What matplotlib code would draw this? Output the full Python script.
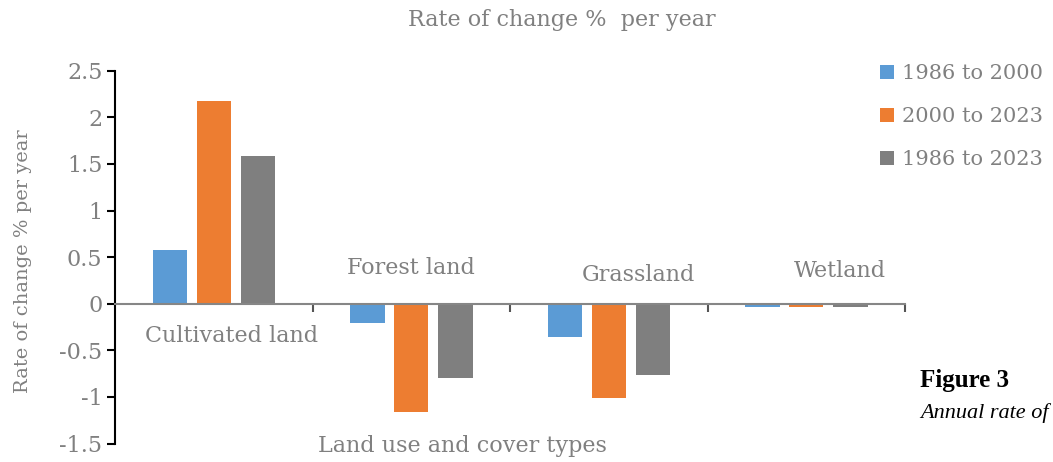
import matplotlib
matplotlib.use("Agg")
from matplotlib import pyplot as plt
import numpy as np

CATEGORIES = ["Cultivated land", "Forest land", "Grassland", "Wetland"]
PERIODS = ["1986 to 2000", "2000 to 2023", "1986 to 2023"]
RATE_1986_2000 = [0.58, -0.21, -0.36, -0.04]
RATE_2000_2023 = [2.18, -1.16, -1.01, -0.04]
RATE_1986_2023 = [1.58, -0.80, -0.76, -0.04]
Y_TICKS = [2.5, 2, 1.5, 1, 0.5, 0, -0.5, -1, -1.5]

COLORS = ["#5B9BD5", "#ED7D31", "#7F7F7F"]
TEXT = "#808080"
FONT = "DejaVu Serif"

plt.rcParams["font.family"] = FONT

fig = plt.figure(figsize=(10.53, 4.62), dpi=100)
ax = fig.add_axes([115 / 1053, 1 - 443.5 / 462, 790 / 1053, 372.8 / 462])

x = np.arange(len(CATEGORIES))
series = [RATE_1986_2000, RATE_2000_2023, RATE_1986_2023]
offsets = [-0.222, 0.0, 0.224]
width = 0.174
for vals, off, col, lab in zip(series, offsets, COLORS, PERIODS):
    ax.bar(x + off, vals, width, color=col, label=lab, zorder=2)

ax.set_xlim(-0.5, 3.5)
ax.set_ylim(-1.5, 2.5)
ax.set_yticks(Y_TICKS)
ax.set_yticklabels([f"{v:g}" for v in Y_TICKS], color=TEXT, fontsize=16)
ax.tick_params(axis="y", direction="out", length=6, width=1.5, color="black", pad=3)

ax.spines["top"].set_visible(False)
ax.spines["right"].set_visible(False)
ax.spines["left"].set_linewidth(1.5)
ax.spines["bottom"].set_position(("data", 0))
ax.spines["bottom"].set_color("#868686")
ax.spines["bottom"].set_linewidth(1.5)
ax.spines["bottom"].set_zorder(3)
ax.set_xticks([0.5, 1.5, 2.5, 3.5])
ax.set_xticklabels([])
ax.tick_params(axis="x", direction="out", length=6, width=1.5, color="#555555")

# category labels placed around the zero line
label_pos = [(0.09, -0.35), (1.0, 0.38), (2.15, 0.31), (3.17, 0.35)]
for name, (lx, ly) in zip(CATEGORIES, label_pos):
    ax.text(lx, ly, name, ha="center", va="center", color=TEXT, fontsize=16)

fig.text(562 / 1053, 1 - 20 / 462, "Rate of change %  per year", ha="center",
         va="center", color=TEXT, fontsize=16)
fig.text(23 / 1053, 1 - 261 / 462, "Rate of change % per year", ha="center",
         va="center", rotation=90, color=TEXT, fontsize=14)
fig.text(462 / 1053, 1 - 446 / 462, "Land use and cover types", ha="center",
         va="center", color=TEXT, fontsize=16)

leg = fig.legend(loc="upper left", bbox_to_anchor=(880 / 1053, 1 - 64 / 462),
                 frameon=False, handlelength=0.65, handleheight=0.65,
                 handletextpad=0.4, labelspacing=1.15, fontsize=15,
                 borderaxespad=0, borderpad=0)
for t in leg.get_texts():
    t.set_color(TEXT)

fig.text(920 / 1053, 1 - 381 / 462, "Figure 3", ha="left", va="center",
         fontsize=18, fontweight="bold", color="black",
         family="Liberation Serif")
fig.text(920 / 1053, 1 - 413 / 462, "Annual rate of", ha="left",
         va="center", fontsize=16, style="italic", color="black",
         family="Liberation Serif")

fig.savefig("out.png", dpi=100)
